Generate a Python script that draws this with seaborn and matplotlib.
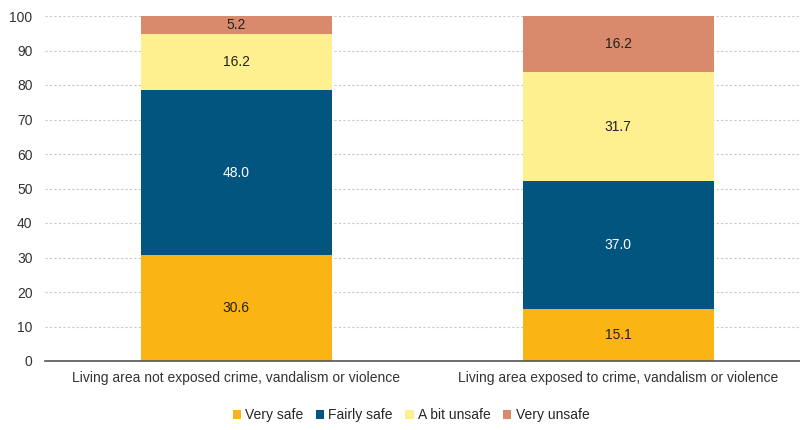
import matplotlib
matplotlib.use("Agg")
import matplotlib.pyplot as plt
import seaborn as sns
import pandas as pd
import numpy as np

categories = [
    "Living area not exposed crime, vandalism or violence",
    "Living area exposed to crime, vandalism or violence",
]
series_names = ["Very safe", "Fairly safe", "A bit unsafe", "Very unsafe"]
very_safe = [30.6, 15.1]
fairly_safe = [48.0, 37.0]
a_bit_unsafe = [16.2, 31.7]
very_unsafe = [5.2, 16.2]

colors = ["#FAB515", "#02557F", "#FEF08F", "#D98A6C"]
label_colors = ["#222222", "#FFFFFF", "#222222", "#222222"]

sns.set_theme(style="white")
plt.rcParams["font.family"] = ["Liberation Sans", "DejaVu Sans"]

fig = plt.figure(figsize=(8, 4.3), dpi=100)
ax = fig.add_axes([45 / 800, 1 - 361 / 430, 764 / 800, 345 / 430])

values = [very_safe, fairly_safe, a_bit_unsafe, very_unsafe]
bottom = np.zeros(len(categories))
for name, vals, col, lcol in zip(series_names, values, colors, label_colors):
    df = pd.DataFrame({"category": categories, "value": vals})
    sns.barplot(data=df, x="category", y="value", bottom=bottom, color=col,
                width=0.5, ax=ax, label=name, saturation=1, zorder=3,
                linewidth=0, edgecolor="none")
    for i, v in enumerate(vals):
        ax.text(i, bottom[i] + v / 2, f"{v:.1f}", ha="center", va="center",
                fontsize=10, color=lcol, zorder=4)
    bottom = bottom + np.array(vals)

ax.set_xlim(-0.5, 1.5)
ax.set_ylim(0, 100)
ax.set_yticks(range(0, 101, 10))
ax.yaxis.grid(True, linestyle=(0, (2, 2)), color="#C8C8C8", linewidth=0.8, zorder=0)
ax.set_xlabel("")
ax.set_ylabel("")
for s in ["top", "right", "left"]:
    ax.spines[s].set_visible(False)
ax.spines["bottom"].set_color("#555555")
ax.spines["bottom"].set_linewidth(1.2)
ax.spines["bottom"].set_zorder(5)
ax.tick_params(axis="y", length=0, labelsize=10, colors="#333333", pad=9)
ax.tick_params(axis="x", which="major", length=0, labelsize=10, colors="#333333", pad=7)
ax.set_xticks([-0.5, 0.5, 1.5], minor=True)
ax.tick_params(axis="x", which="minor", length=4, color="#555555", width=1)

handles, labels = ax.get_legend_handles_labels()
fig.legend(handles, labels, loc="center", bbox_to_anchor=(411 / 800, 1 - 415 / 430),
           ncol=4, frameon=False, fontsize=10, handlelength=0.6, handleheight=0.6,
           handletextpad=0.3, columnspacing=0.9)
if ax.get_legend() is not None:
    ax.get_legend().remove()

fig.savefig("out.png", dpi=100)
